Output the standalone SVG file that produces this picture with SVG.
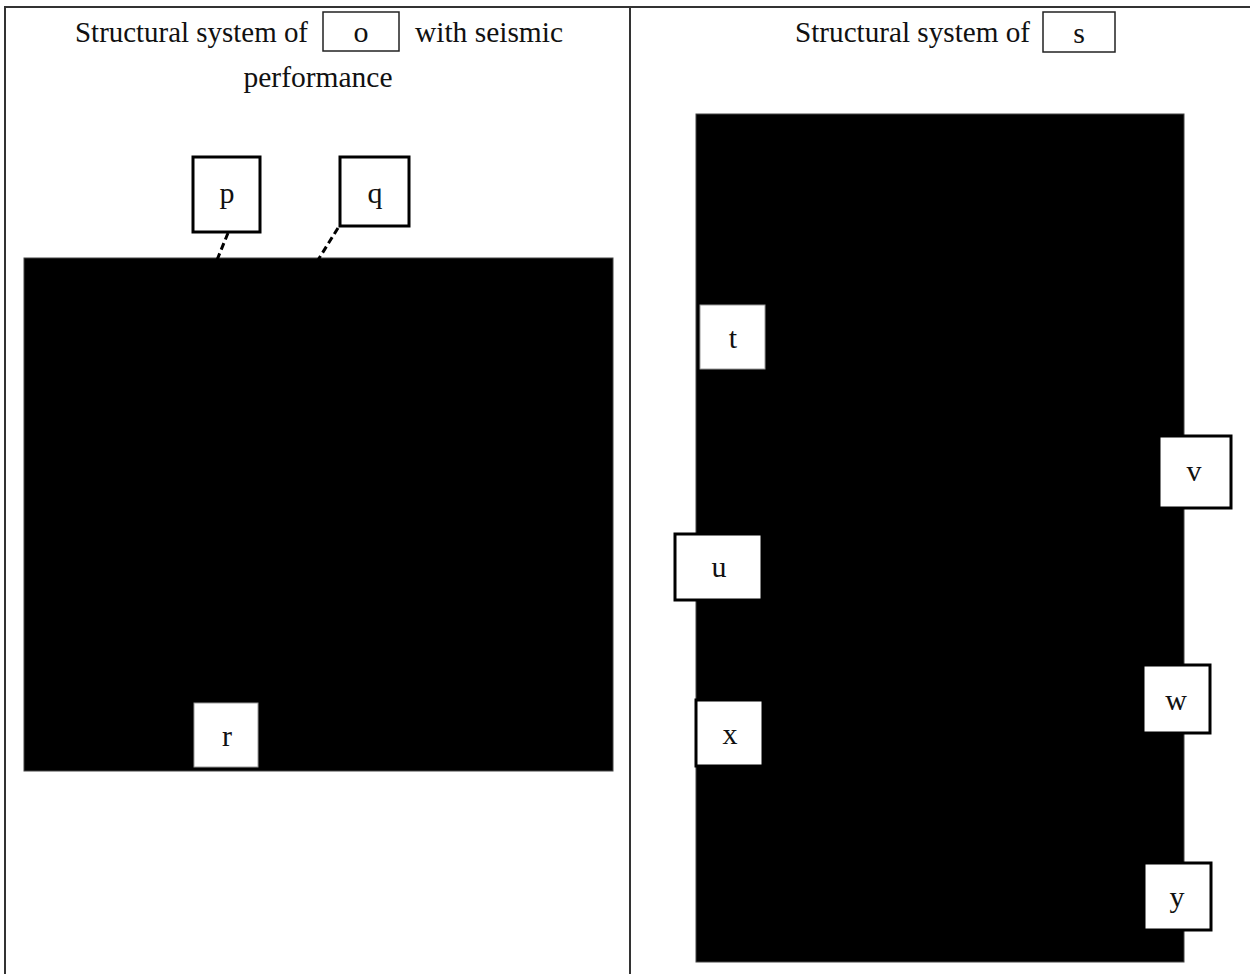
<svg xmlns="http://www.w3.org/2000/svg" width="1250" height="974" viewBox="0 0 1250 974">
<style>
text{font-family:"Liberation Serif","Times New Roman",serif;fill:#111;}
.t{font-size:29.5px;}
.lbl{font-size:30px;text-anchor:middle;}
.frame{stroke:#333;stroke-width:2;fill:none;}
.blk{fill:#000;stroke:#444;stroke-width:1;}
.bx{fill:#fff;stroke:#000;stroke-width:3;}
.wb{fill:#fff;stroke:#999;stroke-width:1;}
.tb{fill:#fff;stroke:#222;stroke-width:1.5;}
.dash{stroke:#000;stroke-width:3;stroke-dasharray:7,4;fill:none;}
</style>
<rect width="1250" height="974" fill="#fff"/>
<g id="frame">
<path class="frame" d="M5,974 V7 H1250"/>
<line class="frame" x1="630" y1="7" x2="630" y2="974"/>
</g>
<g id="title-left">
<text class="t" x="75" y="42" textLength="233" lengthAdjust="spacingAndGlyphs">Structural system of</text>
<rect class="tb" x="323" y="12" width="76" height="39"/>
<text class="lbl" x="361" y="42">o</text>
<text class="t" x="415" y="42" textLength="148" lengthAdjust="spacingAndGlyphs">with seismic</text>
<text class="t" x="318" y="87" text-anchor="middle">performance</text>
</g>
<g id="title-right">
<text class="t" x="795" y="42" textLength="235" lengthAdjust="spacingAndGlyphs">Structural system of</text>
<rect class="tb" x="1043" y="12" width="72" height="40"/>
<text class="lbl" x="1079" y="43">s</text>
</g>
<g id="image-left"><rect class="blk" x="24" y="258" width="589" height="513"/></g>
<g id="image-right"><rect class="blk" x="696" y="114" width="488" height="848"/></g>
<g id="connectors">
<line class="dash" x1="228" y1="233" x2="217" y2="260"/>
<line class="dash" x1="338" y1="228" x2="318" y2="260"/>
</g>
<g id="node-p"><rect class="bx" x="193" y="157" width="67" height="75"/><text class="lbl" x="227" y="203">p</text></g>
<g id="node-q"><rect class="bx" x="340" y="157" width="69" height="69"/><text class="lbl" x="375" y="203">q</text></g>
<g id="node-r"><rect class="wb" x="194" y="703" width="64" height="64"/><text class="lbl" x="227" y="746">r</text></g>
<g id="node-t"><rect class="wb" x="700" y="305" width="65" height="64"/><text class="lbl" x="733" y="348">t</text></g>
<g id="node-u"><rect class="bx" x="675" y="534" width="87" height="66"/><text class="lbl" x="719" y="577">u</text></g>
<g id="node-v"><rect class="bx" x="1159" y="436" width="72" height="72"/><text class="lbl" x="1194" y="481">v</text></g>
<g id="node-w"><rect class="bx" x="1143" y="665" width="67" height="68"/><text class="lbl" x="1176" y="710">w</text></g>
<g id="node-x"><rect class="bx" x="696" y="700" width="67" height="66"/><text class="lbl" x="730" y="744">x</text></g>
<g id="node-y"><rect class="bx" x="1144" y="863" width="67" height="67"/><text class="lbl" x="1177" y="907">y</text></g>
</svg>
